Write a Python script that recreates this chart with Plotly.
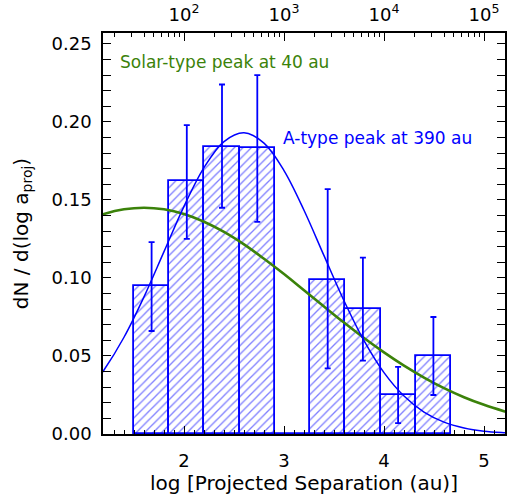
import math
import plotly.graph_objects as go

# ---- data ----
bin_centers = [1.676, 2.028, 2.380, 2.733, 3.085, 3.437, 3.789, 4.141, 4.494]
bin_width = 0.352
dn_values = [0.095, 0.162, 0.184, 0.183, 0.0, 0.099, 0.080, 0.025, 0.050]
err_plus = [0.028, 0.036, 0.040, 0.047, 0.0, 0.058, 0.033, 0.018, 0.025]
err_minus = [0.029, 0.037, 0.039, 0.047, 0.0, 0.057, 0.033, 0.018, 0.025]

curve_x = [1.1, 1.2, 1.4, 1.6, 1.8, 2.0, 2.2, 2.4, 2.6, 2.8, 3.0, 3.2,
           3.4, 3.6, 3.8, 4.0, 4.2, 4.4, 4.6, 4.8, 5.0, 5.2, 5.3]
a_type_curve = [0.0325, 0.0410, 0.0620, 0.0879, 0.1169, 0.1459, 0.1707,
                0.1874, 0.1930, 0.1864, 0.1688, 0.1434, 0.1143, 0.0854,
                0.0598, 0.0393, 0.0243, 0.0140, 0.0076, 0.0039, 0.0018,
                0.0008, 0.0005]
solar_curve = [0.1387, 0.1410, 0.1440, 0.1450, 0.1440, 0.1410, 0.1360,
               0.1295, 0.1215, 0.1123, 0.1025, 0.0921, 0.0817, 0.0714,
               0.0615, 0.0523, 0.0438, 0.0362, 0.0294, 0.0236, 0.0187,
               0.0146, 0.0128]

top_tick_vals = [2, 3, 4, 5]
top_tick_text = ["10<sup>2</sup>", "10<sup>3</sup>", "10<sup>4</sup>", "10<sup>5</sup>"]
y_tick_vals = [0.00, 0.05, 0.10, 0.15, 0.20, 0.25]

solar_label = "Solar-type peak at 40 au"
a_label = "A-type peak at 390 au"
x_title = "log [Projected Separation (au)]"
y_title = "dN / d(log a<sub>proj</sub>)"

# ---- styling ----
BLUE = "#0000ff"
GREEN = "#3b820a"
FONT = "DejaVu Sans"
XR = [1.19, 5.21]
YR = [0.0, 0.257]

top_minor = []
for n in range(1, 6):
    for k in range(2, 10):
        v = math.log10(k * 10 ** n)
        if XR[0] < v < XR[1]:
            top_minor.append(v)

fig = go.Figure()

fig.add_trace(go.Bar(
    x=bin_centers, y=dn_values, width=bin_width,
    marker=dict(color="white", line=dict(color=BLUE, width=1.8),
                pattern=dict(shape="/", fgcolor=BLUE, bgcolor="white",
                             size=6, solidity=0.22)),
    showlegend=False, hoverinfo="skip"))

fig.add_trace(go.Scatter(
    x=curve_x, y=solar_curve, mode="lines", line=dict(color=GREEN, width=2.6, shape="spline"),
    showlegend=False))
fig.add_trace(go.Scatter(
    x=curve_x, y=a_type_curve, mode="lines", line=dict(color=BLUE, width=1.5, shape="spline"),
    showlegend=False))

ex = [c for c, v in zip(bin_centers, dn_values) if v > 0]
ey = [v for v in dn_values if v > 0]
ep = [p for p, v in zip(err_plus, dn_values) if v > 0]
em = [m for m, v in zip(err_minus, dn_values) if v > 0]
fig.add_trace(go.Scatter(
    x=ex, y=ey, mode="markers", marker=dict(size=1, color="rgba(0,0,0,0)"),
    error_y=dict(type="data", symmetric=False, array=ep, arrayminus=em,
                 color=BLUE, thickness=1.8, width=3),
    showlegend=False))

# invisible trace on the top axis
fig.add_trace(go.Scatter(x=XR, y=[None, None], xaxis="x2", mode="lines", showlegend=False))

fig.add_annotation(x=1.335, y=0.2385, xref="x", yref="y", text=solar_label,
                   showarrow=False, xanchor="left", yanchor="middle",
                   font=dict(family=FONT, size=17, color=GREEN))
fig.add_annotation(x=2.965, y=0.190, xref="x", yref="y", text=a_label,
                   showarrow=False, xanchor="left", yanchor="middle",
                   font=dict(family=FONT, size=17, color=BLUE))

axis_common = dict(showline=True, linecolor="black", linewidth=1.6,
                   ticks="inside", ticklen=8, tickwidth=1.4, tickcolor="black",
                   showgrid=False, zeroline=False, automargin=False)

fig.update_layout(
    width=508, height=499,
    margin=dict(l=103, r=3, t=33, b=65, autoexpand=False),
    paper_bgcolor="white", plot_bgcolor="white",
    bargap=0,
    font=dict(family=FONT, size=18, color="black"),
    xaxis=dict(range=XR, tickmode="array", tickvals=[2, 3, 4, 5],
               ticktext=["2", "3", "4", "5"],
               minor=dict(dtick=0.1, tick0=0, ticks="inside", ticklen=4,
                          tickwidth=1.2, tickcolor="black"),
               ticklabelstandoff=10,
               title=dict(text=x_title, font=dict(size=20), standoff=6),
               **axis_common),
    xaxis2=dict(range=XR, overlaying="x", side="top", tickmode="array",
                tickvals=top_tick_vals, ticktext=top_tick_text,
                minor=dict(tickmode="array", tickvals=top_minor, ticks="inside",
                           ticklen=4, tickwidth=1.2, tickcolor="black"),
                ticklabelstandoff=3,
                **axis_common),
    yaxis=dict(range=YR, tickmode="array", tickvals=y_tick_vals, tickformat=".2f",
               minor=dict(dtick=0.01, tick0=0, ticks="inside", ticklen=4,
                          tickwidth=1.2, tickcolor="black"),
               mirror="allticks", ticklabelstandoff=6,
               title=dict(text=y_title, font=dict(size=20), standoff=18),
               **axis_common),
)

# remove the page's default body margin so the figure fills the window exactly
fig.write_html("out.html", config={"displayModeBar": False},
               post_script="document.body.style.margin='0px';")
